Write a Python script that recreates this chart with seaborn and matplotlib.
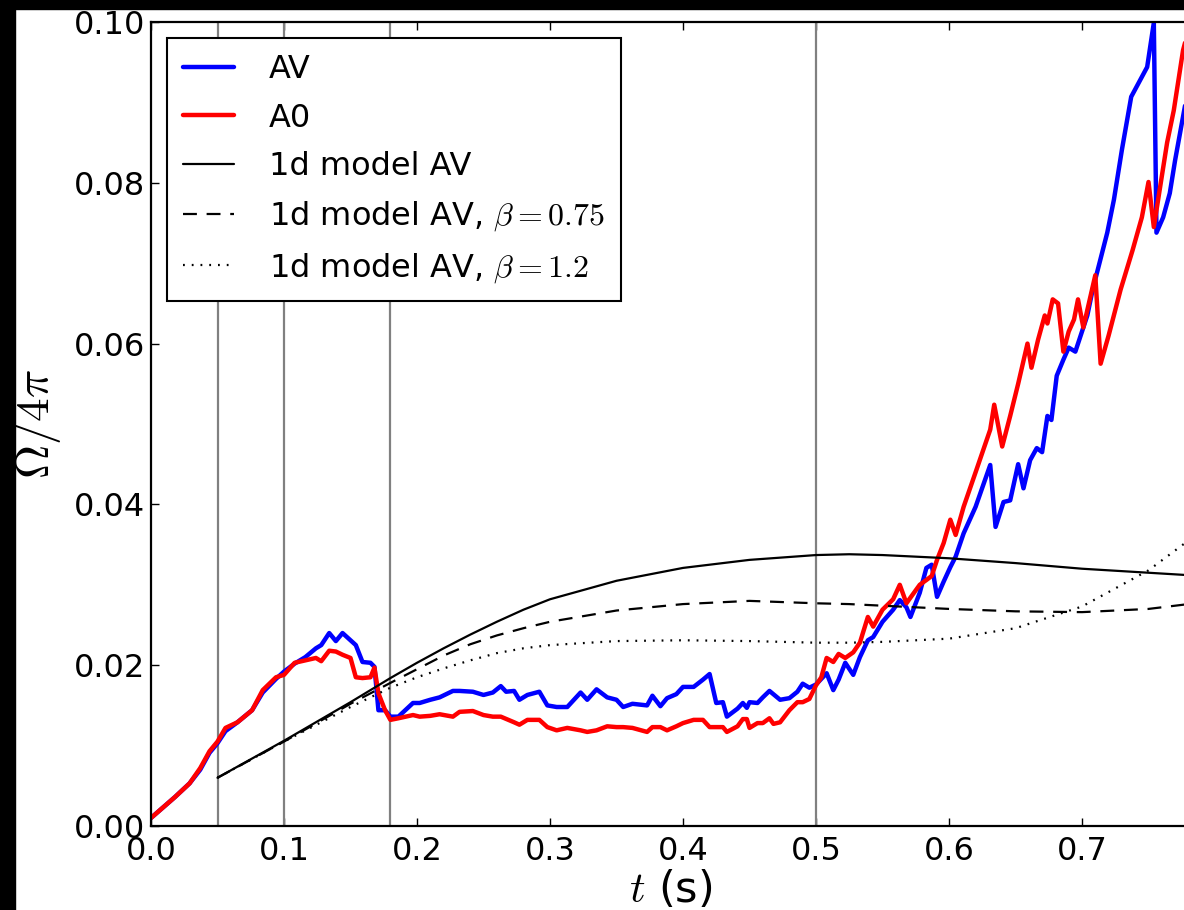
import matplotlib
matplotlib.use("Agg")
import matplotlib.pyplot as plt
from matplotlib.patches import Rectangle
import pandas as pd
import seaborn as sns

# ------------------------------------------------------------------
# data
# ------------------------------------------------------------------
t_av = [0.0, 0.018, 0.029, 0.037, 0.044, 0.05, 0.056, 0.065, 0.076, 0.084, 0.094, 0.1,
        0.108, 0.116, 0.124, 0.128, 0.134, 0.139, 0.144, 0.15, 0.154, 0.159, 0.165, 0.168,
        0.171, 0.176, 0.18, 0.186, 0.197, 0.202, 0.21, 0.217, 0.227, 0.232, 0.242, 0.25,
        0.257, 0.263, 0.267, 0.273, 0.277, 0.283, 0.292, 0.298, 0.305, 0.313, 0.323, 0.328,
        0.335, 0.343, 0.35, 0.355, 0.362, 0.373, 0.377, 0.383, 0.388, 0.395, 0.4, 0.408,
        0.415, 0.42, 0.425, 0.43, 0.433, 0.441, 0.445, 0.448, 0.45, 0.456, 0.46, 0.465,
        0.473, 0.48, 0.486, 0.49, 0.495, 0.5, 0.508, 0.513, 0.517, 0.522, 0.528, 0.533,
        0.539, 0.543, 0.55, 0.558, 0.563, 0.568, 0.571, 0.578, 0.583, 0.587, 0.591, 0.596,
        0.601, 0.605, 0.611, 0.62, 0.631, 0.635, 0.641, 0.646, 0.652, 0.656, 0.661, 0.666,
        0.67, 0.674, 0.677, 0.681, 0.686, 0.69, 0.695, 0.7, 0.704, 0.708, 0.719, 0.724,
        0.73, 0.737, 0.749, 0.754, 0.756, 0.761, 0.766, 0.77, 0.776, 0.78]
omega_av = [0.0010, 0.0036, 0.0053, 0.0070, 0.0091, 0.0103, 0.0118, 0.0129, 0.0144, 0.0166,
            0.0183, 0.0192, 0.0202, 0.0210, 0.0221, 0.0225, 0.0240, 0.0230, 0.0240, 0.0231,
            0.0225, 0.0204, 0.0203, 0.0198, 0.0144, 0.0144, 0.0136, 0.0136, 0.0153, 0.0153,
            0.0157, 0.0160, 0.0168, 0.0168, 0.0167, 0.0163, 0.0166, 0.0174, 0.0167, 0.0168,
            0.0157, 0.0163, 0.0167, 0.0150, 0.0148, 0.0148, 0.0166, 0.0157, 0.0170, 0.0160,
            0.0157, 0.0148, 0.0152, 0.0150, 0.0162, 0.0149, 0.0159, 0.0164, 0.0173, 0.0173,
            0.0182, 0.0189, 0.0153, 0.0154, 0.0136, 0.0146, 0.0153, 0.0147, 0.0154, 0.0153,
            0.0160, 0.0168, 0.0157, 0.0159, 0.0167, 0.0177, 0.0172, 0.0176, 0.0190, 0.0169,
            0.0182, 0.0203, 0.0188, 0.0210, 0.0231, 0.0235, 0.0254, 0.0269, 0.0281, 0.0272,
            0.0260, 0.0290, 0.0321, 0.0325, 0.0285, 0.0304, 0.0322, 0.0335, 0.0364, 0.0397,
            0.0449, 0.0372, 0.0403, 0.0405, 0.0450, 0.0420, 0.0455, 0.0470, 0.0465, 0.0510,
            0.0505, 0.0560, 0.0580, 0.0595, 0.0590, 0.0615, 0.0635, 0.0667, 0.0738, 0.0779,
            0.0841, 0.0907, 0.0944, 0.0999, 0.0738, 0.0757, 0.0787, 0.0828, 0.0882, 0.0920]

t_a0 = [0.0, 0.018, 0.029, 0.037, 0.044, 0.05, 0.056, 0.065, 0.076, 0.084, 0.094, 0.1,
        0.108, 0.116, 0.124, 0.128, 0.134, 0.139, 0.144, 0.15, 0.154, 0.159, 0.165, 0.168,
        0.171, 0.176, 0.18, 0.186, 0.197, 0.202, 0.21, 0.217, 0.227, 0.232, 0.242, 0.25,
        0.257, 0.263, 0.273, 0.277, 0.283, 0.292, 0.298, 0.305, 0.313, 0.323, 0.328, 0.335,
        0.343, 0.35, 0.355, 0.362, 0.373, 0.377, 0.383, 0.388, 0.395, 0.4, 0.408, 0.415,
        0.42, 0.43, 0.433, 0.441, 0.445, 0.448, 0.45, 0.456, 0.46, 0.465, 0.468, 0.473,
        0.48, 0.486, 0.49, 0.495, 0.5, 0.504, 0.508, 0.513, 0.517, 0.522, 0.528, 0.533,
        0.539, 0.543, 0.55, 0.558, 0.563, 0.568, 0.571, 0.578, 0.583, 0.587, 0.591, 0.596,
        0.601, 0.605, 0.611, 0.62, 0.631, 0.634, 0.64, 0.646, 0.652, 0.659, 0.662, 0.667,
        0.672, 0.674, 0.678, 0.682, 0.686, 0.69, 0.694, 0.697, 0.701, 0.71, 0.714, 0.72,
        0.729, 0.738, 0.745, 0.75, 0.754, 0.764, 0.769, 0.776, 0.78]
omega_a0 = [0.0010, 0.0036, 0.0053, 0.0072, 0.0093, 0.0105, 0.0122, 0.0129, 0.0144, 0.0169,
            0.0185, 0.0188, 0.0203, 0.0206, 0.0209, 0.0205, 0.0218, 0.0217, 0.0213, 0.0209,
            0.0185, 0.0184, 0.0185, 0.0197, 0.0165, 0.0144, 0.0132, 0.0134, 0.0138, 0.0136,
            0.0137, 0.0139, 0.0136, 0.0142, 0.0143, 0.0138, 0.0136, 0.0136, 0.0129, 0.0126,
            0.0132, 0.0132, 0.0123, 0.0119, 0.0122, 0.0119, 0.0117, 0.0119, 0.0124, 0.0123,
            0.0123, 0.0122, 0.0117, 0.0123, 0.0123, 0.0119, 0.0124, 0.0128, 0.0132, 0.0132,
            0.0123, 0.0123, 0.0117, 0.0124, 0.0133, 0.0133, 0.0122, 0.0128, 0.0128, 0.0134,
            0.0127, 0.0129, 0.0144, 0.0154, 0.0154, 0.0158, 0.0175, 0.0185, 0.0209, 0.0204,
            0.0214, 0.0209, 0.0216, 0.0228, 0.0260, 0.0248, 0.0269, 0.0282, 0.0300, 0.0277,
            0.0284, 0.0300, 0.0306, 0.0311, 0.0331, 0.0352, 0.0381, 0.0362, 0.0397, 0.0440,
            0.0493, 0.0524, 0.0472, 0.0510, 0.0550, 0.0600, 0.0570, 0.0605, 0.0635, 0.0625,
            0.0655, 0.0650, 0.0590, 0.0615, 0.0630, 0.0655, 0.0620, 0.0685, 0.0575, 0.0610,
            0.0667, 0.0716, 0.0757, 0.0801, 0.0745, 0.0850, 0.0890, 0.0965, 0.0990]

t_model = [0.05, 0.1, 0.15, 0.18, 0.2, 0.22, 0.24, 0.26, 0.28, 0.3, 0.35, 0.4, 0.45, 0.5,
           0.525, 0.55, 0.6, 0.65, 0.7, 0.75, 0.78]
model_av = [0.0060, 0.0106, 0.0154, 0.0184, 0.0203, 0.0221, 0.0238, 0.0254, 0.0269, 0.0282,
            0.0305, 0.0321, 0.0331, 0.0337, 0.0338, 0.0337, 0.0333, 0.0327, 0.0320, 0.0315,
            0.0312]
model_b075 = [0.0060, 0.0105, 0.0152, 0.0178, 0.0195, 0.0212, 0.0226, 0.0237, 0.0246, 0.0254,
              0.0268, 0.0276, 0.0280, 0.0277, 0.0276, 0.0274, 0.0270, 0.0267, 0.0266, 0.0270,
              0.0276]
model_b12 = [0.0060, 0.0105, 0.0148, 0.0172, 0.0185, 0.0196, 0.0206, 0.0215, 0.0221, 0.0225,
             0.0230, 0.0231, 0.0230, 0.0228, 0.0228, 0.0229, 0.0233, 0.0246, 0.0273, 0.0318,
             0.0355]

t_marks = [0.05, 0.1, 0.18, 0.5]
x_ticks = [0.0, 0.1, 0.2, 0.3, 0.4, 0.5, 0.6, 0.7]
x_ticklabels = ["0.0", "0.1", "0.2", "0.3", "0.4", "0.5", "0.6", "0.7"]
y_ticks = [0.0, 0.02, 0.04, 0.06, 0.08, 0.10]
y_ticklabels = ["0.00", "0.02", "0.04", "0.06", "0.08", "0.10"]

df_av = pd.DataFrame({"t": t_av, "omega": omega_av})
df_a0 = pd.DataFrame({"t": t_a0, "omega": omega_a0})
df_model = pd.DataFrame({"t": t_model, "av": model_av, "b075": model_b075, "b12": model_b12})

# ------------------------------------------------------------------
# style
# ------------------------------------------------------------------
sns.set_theme(style="ticks", rc={
    "xtick.direction": "in", "ytick.direction": "in",
    "xtick.top": True, "ytick.right": True,
    "xtick.major.size": 6, "ytick.major.size": 6,
    "xtick.major.width": 1.0, "ytick.major.width": 1.0,
    "axes.linewidth": 1.6, "axes.edgecolor": "black",
    "xtick.color": "black", "ytick.color": "black",
    "axes.labelcolor": "black", "text.color": "black",
})
plt.rcParams["font.family"] = ["DejaVu Sans"]
plt.rcParams["mathtext.fontset"] = "cm"
plt.rcParams["lines.scale_dashes"] = False

fig = plt.figure(figsize=(11.84, 9.10), dpi=100)
fig.patch.set_facecolor("white")
ax = fig.add_axes([151 / 1184, 84 / 910, 1064 / 1184, 804 / 910])

# black strips along the left and top edges of the picture
fig.patches.append(Rectangle((0, 0), 15 / 1184, 1, transform=fig.transFigure,
                             color="black", zorder=10))
fig.patches.append(Rectangle((0, 1 - 9 / 910), 1, 9 / 910, transform=fig.transFigure,
                             color="black", zorder=10))

for tm in t_marks:
    ax.axvline(tm, color="#808080", lw=1.6, zorder=1)

sns.lineplot(data=df_av, x="t", y="omega", ax=ax, color="#0000ff", lw=3.2,
             label="AV", estimator=None, sort=False)
sns.lineplot(data=df_a0, x="t", y="omega", ax=ax, color="#ff0000", lw=3.2,
             label="A0", estimator=None, sort=False)
sns.lineplot(data=df_model, x="t", y="av", ax=ax, color="black", lw=1.6,
             label="1d model AV", estimator=None, sort=False)
sns.lineplot(data=df_model, x="t", y="b075", ax=ax, color="black", lw=1.6,
             linestyle=(0, (10, 7)), label=r"1d model AV, $\beta=0.75$",
             estimator=None, sort=False)
sns.lineplot(data=df_model, x="t", y="b12", ax=ax, color="black", lw=1.6,
             linestyle=(0, (1.3, 5.0)), label=r"1d model AV, $\beta=1.2$",
             estimator=None, sort=False)

ax.set_xlim(0, 0.8)
ax.set_ylim(0, 0.10)
ax.set_xticks(x_ticks)
ax.set_xticklabels(x_ticklabels)
ax.set_yticks(y_ticks)
ax.set_yticklabels(y_ticklabels)
ax.tick_params(axis="both", labelsize=23)
ax.tick_params(axis="x", pad=7)
ax.tick_params(axis="y", pad=4)

ax.set_xlabel(r"$t$ (s)", fontsize=31)
ax.xaxis.set_label_coords(0.488, -0.053)
ax.set_ylabel(r"$\Omega/4\pi$", fontsize=34, labelpad=8)

leg = ax.legend(loc="upper left", fontsize=23, frameon=True, fancybox=False,
                handlelength=1.6, handletextpad=1.1, labelspacing=0.55,
                borderaxespad=0.5, borderpad=0.5)
leg.get_frame().set_edgecolor("black")
leg.get_frame().set_linewidth(1.5)
leg.get_frame().set_alpha(1.0)

fig.savefig("out.png", dpi=100, facecolor="white")
